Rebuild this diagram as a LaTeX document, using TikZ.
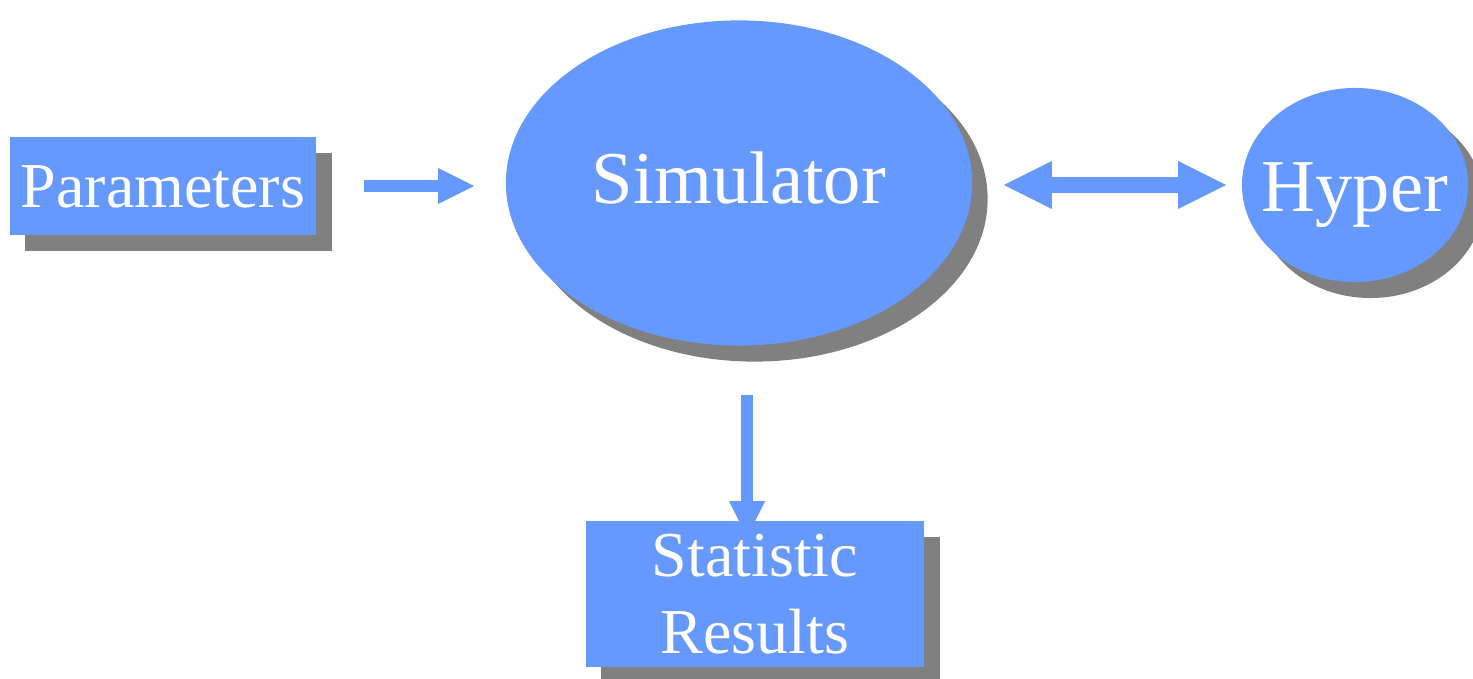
\documentclass[tikz,border=0pt]{standalone}
\usepackage{fontspec}
\setmainfont{Liberation Serif}
\usetikzlibrary{arrows.meta,shapes.geometric,shadows,backgrounds}
\definecolor{simblue}{RGB}{102,153,255}
\definecolor{shgray}{RGB}{128,128,128}
\begin{document}
\begin{tikzpicture}[x=0.01cm,y=-0.01cm,
  sh/.style={drop shadow={shadow xshift=1.55mm,shadow yshift=-1.6mm,opacity=1,fill=shgray}},
  bx/.style={rectangle,fill=simblue,sh,text=white,inner sep=0pt,font=\fontsize{18.2pt}{21.9pt}\selectfont},
  el/.style={ellipse,fill=simblue,sh,text=white,inner sep=0pt,font=\fontsize{21.2pt}{25pt}\selectfont},
  ar/.style={draw=simblue,line width=1.2mm,-{Triangle[width=3.6mm,length=3.6mm,line width=0pt]}}]
\useasboundingbox (0,0) rectangle (1473,679);
\node[bx,minimum width=30.6mm,minimum height=9.8mm,text height=13pt,text depth=1pt] (par) at (163,186){Parameters};
\node[el,minimum width=46.6mm,minimum height=32.5mm,text height=14pt,text depth=2.6pt] (sim) at (739,183){Simulator};
\node[el,minimum width=22.6mm,minimum height=19.4mm,inner xsep=-1.5mm,text height=16pt,text depth=1.2pt] (hyp) at (1355,185){Hyper};
\node[bx,minimum width=33.8mm,minimum height=14.6mm,align=center] (stat) at (755,594){Statistic\\Results};
\begin{scope}[on background layer]
\draw[ar,shorten <=4.7mm,shorten >=3.1mm] (par.east)--(par.east -| sim.west);
\draw[draw=simblue,line width=1.5mm,{Triangle[width=4.8mm,length=4.8mm,line width=0pt]}-{Triangle[width=4.8mm,length=4.8mm,line width=0pt]},shorten <=3.1mm,shorten >=1.5mm] (hyp.west -| sim.east)--(hyp.west);
\draw[ar,shorten <=4.9mm,shorten >=-1.7mm] ([xshift=0.8mm]sim.south)--([xshift=0.8mm]sim.south |- stat.north);
\end{scope}
\end{tikzpicture}
\end{document}
